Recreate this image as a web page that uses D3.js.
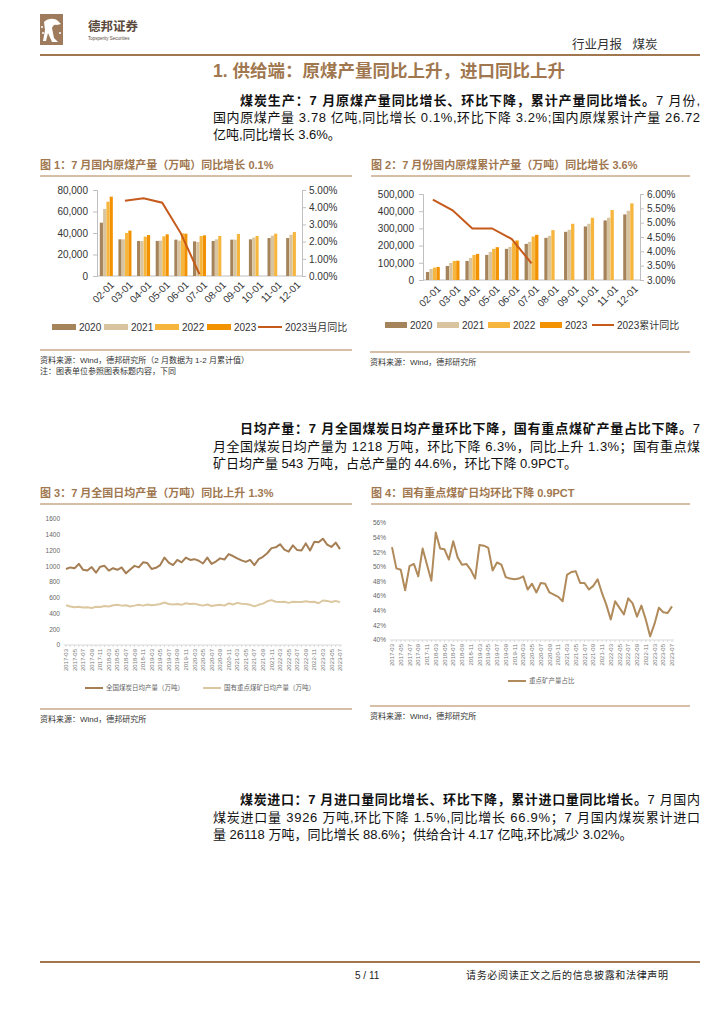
<!DOCTYPE html>
<html>
<head>
<meta charset="utf-8">
<script src="https://cdn.jsdelivr.net/npm/d3@7"></script>
<style>
  body { margin: 0; background: #fff; }
  svg { display: block; font-family: "Liberation Sans", "Noto Sans CJK SC", sans-serif; }
</style>
</head>
<body>
<div id="page"></div>
<script>
// ---------- data ----------
const monthLabels = ["02-01", "03-01", "04-01", "05-01", "06-01", "07-01", "08-01", "09-01", "10-01", "11-01", "12-01"];
const yearNames = ["2020", "2021", "2022", "2023"];

// fig 1: monthly raw coal output (10k t)
const prod2020 = [49600, 34100, 32600, 32600, 33800, 32200, 32600, 33800, 34100, 35300, 35300];
const prod2021 = [62300, 34100, 32600, 32900, 32900, 31600, 34100, 33800, 35700, 37500, 38400];
const prod2022 = [69100, 40000, 36600, 36900, 39700, 37200, 37200, 39100, 37200, 39400, 40900];
const prod2023 = [73800, 42200, 38100, 38800, 39400, 37800];
const prodYoY2023 = [null, 4.38, 4.52, 4.26, 2.48, 0.1];

// fig 2: cumulative output (10k t)
const cum2020 = [46700, 81700, 110900, 145900, 181000, 210100, 245100, 280200, 311300, 346300, 381300];
const cum2021 = [64200, 99200, 128400, 163400, 192600, 221800, 256800, 291800, 326800, 361900, 402700];
const cum2022 = [72000, 110900, 145900, 181000, 217900, 252900, 289900, 326800, 361900, 406600, 445500];
const cum2023 = [75900, 112000, 151800, 190700, 229600, 262600];
const cumYoY2023 = [5.80, 5.43, 4.80, 4.80, 4.43, 3.58];

// fig 3 / fig 4: 2017-03 .. 2023-07, months Mar-Dec
const dailyYears = ["2017", "2018", "2019", "2020", "2021", "2022", "2023"];
const dailyMonths = ["03", "04", "05", "06", "07", "08", "09", "10", "11", "12"];
const dailyTotal = [
  965, 985, 975, 1030, 955, 945, 990, 918, 995, 1005,
  945, 975, 955, 985, 910, 960, 1005, 985, 1050, 1040,
  965, 980, 1015, 1110, 1045, 1015, 1080, 1050, 1110, 1080,
  1090, 1070, 1035, 1110, 1030, 1060, 1100, 1085, 1155, 1130,
  1100, 1075, 1055, 1080, 1015, 1090, 1120, 1165, 1230, 1240,
  1280, 1210, 1185, 1265, 1205, 1200, 1290, 1200, 1310, 1305,
  1350, 1275, 1245, 1300, 1218
];
const dailyStateKey = [
  505, 490, 480, 485, 475, 478, 470, 485, 482, 495,
  490, 505, 510, 500, 505, 490, 500, 510, 500, 515,
  505, 510, 520, 540, 520, 515, 520, 510, 530, 520,
  525, 510, 500, 515, 495, 505, 510, 500, 530, 515,
  535, 525, 520, 510, 490, 510, 525, 555, 570, 550,
  545, 550, 535, 550, 545, 545, 555, 545, 550, 530,
  565, 560, 545, 560, 543
];
const keyShare = [
  52.7, 49.8, 49.6, 46.8, 50.1, 50.4, 48.7, 52.5, 50.3, 48.1,
  54.7, 52.5, 52.4, 51.0, 53.5, 51.3, 50.3, 50.4, 49.6, 48.4,
  53.0, 52.9, 52.6, 49.5, 50.6, 50.3, 48.6, 48.4, 48.3, 48.4,
  48.7, 46.9, 47.7, 46.5, 47.8, 47.7, 46.5, 46.2, 45.9, 45.3,
  48.9, 49.3, 49.4, 47.8, 47.8, 46.9, 47.4, 48.3, 46.4, 44.8,
  42.8, 45.3, 44.4, 43.5, 45.7, 45.0, 43.2, 44.7, 42.8, 40.5,
  42.2, 44.4, 43.8, 43.7, 44.6
];

const barColors = ["#a5835b", "#d8c49e", "#f6b53d", "#f39200"];
const lineColor = "#c55a1b";
const brown = "#a0774f";

// category labels for the daily charts
const dailyCats = [];
dailyYears.forEach(y => dailyMonths.forEach(m => dailyCats.push(y + "-" + m)));
dailyCats.length = dailyTotal.length;

// ---------- page ----------
const W = 724, H = 1024;
const svg = d3.select("#page").append("svg").attr("width", W).attr("height", H);

// header
const logo = svg.append("g");
logo.append("rect").attr("x", 40).attr("y", 14).attr("width", 23).attr("height", 31).attr("fill", "#9d7b5c");
logo.append("path")
  .attr("d", "M44,22 C48,18 55,18 58,21 L61,24 L57,25 C55,24 53,25 52,28 L54,38 L58,42 L52,42 L48,33 L46,41 L43,41 L45,30 Z")
  .attr("fill", "#fff");
[[42, 27], [43, 33], [60, 33]].forEach(p =>
  logo.append("circle").attr("cx", p[0]).attr("cy", p[1]).attr("r", 1).attr("fill", "#fff"));
svg.append("text").attr("x", 88).attr("y", 31).attr("font-size", 12.5).attr("font-weight", "bold")
  .attr("fill", "#5b4a3b").text("德邦证券");
svg.append("text").attr("x", 88).attr("y", 40).attr("font-size", 4.5).attr("fill", "#5b4a3b")
  .text("Topsperity Securities");
svg.append("text").attr("x", 572).attr("y", 49).attr("font-size", 12.5).attr("fill", "#333")
  .attr("xml:space", "preserve").text("行业月报   煤炭");
svg.append("line").attr("x1", 40).attr("x2", 700).attr("y1", 55).attr("y2", 55)
  .attr("stroke", brown).attr("stroke-width", 2);

svg.append("text").attr("x", 213).attr("y", 77).attr("font-size", 17.5).attr("font-weight", "bold")
  .attr("fill", brown).text("1. 供给端：原煤产量同比上升，进口同比上升");

// paragraphs: [x0, baseline, boldPart, normalPart, justify]
function paragraph(lines) {
  lines.forEach(l => {
    const t = svg.append("text").attr("x", l[0]).attr("y", l[1]).attr("font-size", 13).attr("fill", "#111")
      .attr("xml:space", "preserve");
    if (l[2]) t.append("tspan").attr("font-weight", "bold").text(l[2]);
    t.append("tspan").text(l[3]);
    if (l[4]) t.attr("textLength", 700 - l[0]).attr("lengthAdjust", "spacing");
  });
}
paragraph([
  [240, 105, "煤炭生产：7 月原煤产量同比增长、环比下降，累计产量同比增长。", "7 月份,", true],
  [213, 122, "", "国内原煤产量 3.78 亿吨,同比增长 0.1%,环比下降 3.2%;国内原煤累计产量 26.72", true],
  [213, 139, "", "亿吨,同比增长 3.6%。", false]
]);
paragraph([
  [240, 433, "日均产量：7 月全国煤炭日均产量环比下降，国有重点煤矿产量占比下降。", "7", true],
  [213, 451, "", "月全国煤炭日均产量为 1218 万吨，环比下降 6.3%，同比上升 1.3%；国有重点煤", true],
  [213, 468, "", "矿日均产量 543 万吨，占总产量的 44.6%，环比下降 0.9PCT。", false]
]);
paragraph([
  [240, 804, "煤炭进口：7 月进口量同比增长、环比下降，累计进口量同比增长。", "7 月国内", true],
  [213, 822, "", "煤炭进口量 3926 万吨,环比下降 1.5%,同比增长 66.9%；7 月国内煤炭累计进口", true],
  [213, 839, "", "量 26118 万吨，同比增长 88.6%；供给合计 4.17 亿吨,环比减少 3.02%。", false]
]);

// footer
svg.append("line").attr("x1", 40).attr("x2", 700).attr("y1", 962).attr("y2", 962)
  .attr("stroke", brown).attr("stroke-width", 2);
svg.append("text").attr("x", 355).attr("y", 979).attr("font-size", 10).attr("fill", "#222").text("5 / 11");
svg.append("text").attr("x", 466).attr("y", 979).attr("font-size", 10).attr("fill", "#222")
  .attr("textLength", 202).attr("lengthAdjust", "spacing").text("请务必阅读正文之后的信息披露和法律声明");

// caption + rule + sources
function caption(x, y, x2, text) {
  svg.append("text").attr("x", x).attr("y", y).attr("font-size", 11).attr("font-weight", "bold")
    .attr("fill", brown).text(text);
  svg.append("line").attr("x1", x).attr("x2", x2).attr("y1", y + 7).attr("y2", y + 7)
    .attr("stroke", "#c9a98a").attr("stroke-width", 1.5);
}
function source(x, y, x2, lines) {
  svg.append("line").attr("x1", x).attr("x2", x2).attr("y1", y).attr("y2", y)
    .attr("stroke", "#c9a98a").attr("stroke-width", 1.5);
  lines.forEach((s, i) => svg.append("text").attr("x", x).attr("y", y + 13 + i * 11)
    .attr("font-size", 8).attr("fill", "#333").text(s));
}

// ---------- grouped bar + line ----------
function barChart(cfg) {
  const g = svg.append("g");
  const x0 = d3.scaleBand().domain(monthLabels).range([cfg.left, cfg.right]).paddingInner(0.3).paddingOuter(0.15);
  const x1 = d3.scaleBand().domain(yearNames).range([0, x0.bandwidth()]).paddingInner(0.05);
  const y = d3.scaleLinear().domain(cfg.yDomain).range([cfg.bottom, cfg.top]);
  const y2 = d3.scaleLinear().domain(cfg.y2Domain).range([cfg.bottom, cfg.top]);

  const axisStyle = sel => {
    sel.selectAll("path,line").attr("stroke", "#bfbfbf");
    sel.selectAll("text").attr("font-size", 10).attr("fill", "#333")
      .attr("font-family", "Liberation Sans, sans-serif");
  };
  g.append("g").attr("transform", `translate(${cfg.left},0)`)
    .call(d3.axisLeft(y).tickValues(cfg.yTicks).tickFormat(d3.format(",")).tickSizeOuter(0).tickSize(4).tickPadding(5))
    .call(axisStyle);
  g.append("g").attr("transform", `translate(${cfg.right},0)`)
    .call(d3.axisRight(y2).tickValues(cfg.y2Ticks).tickFormat(d => d.toFixed(2) + "%").tickSizeOuter(0).tickSize(4).tickPadding(3))
    .call(axisStyle);
  g.append("line").attr("x1", cfg.left).attr("x2", cfg.right).attr("y1", cfg.bottom).attr("y2", cfg.bottom)
    .attr("stroke", "#bfbfbf");

  cfg.series.forEach((vals, si) => {
    g.append("g").selectAll("rect").data(vals.map((v, i) => ({ v, m: monthLabels[i] })).filter(d => d.v != null))
      .join("rect")
      .attr("x", d => x0(d.m) + x1(yearNames[si]))
      .attr("y", d => y(d.v))
      .attr("width", x1.bandwidth())
      .attr("height", d => cfg.bottom - y(d.v))
      .attr("fill", barColors[si]);
  });

  const pts = cfg.line.map((v, i) => ({ v, m: monthLabels[i] })).filter(d => d.v != null);
  g.append("path").datum(pts)
    .attr("d", d3.line().x(d => x0(d.m) + x0.bandwidth() / 2).y(d => y2(d.v)))
    .attr("fill", "none").attr("stroke", lineColor).attr("stroke-width", 2);

  g.append("g").selectAll("text").data(monthLabels).join("text")
    .attr("transform", d => `translate(${x0(d) + x0.bandwidth() / 2 + 6},${cfg.bottom + 7}) rotate(-45)`)
    .attr("text-anchor", "end").attr("dy", "0.35em")
    .attr("font-size", 10).attr("fill", "#333").text(d => d);

  // legend
  const lg = g.append("g");
  cfg.legendX.forEach((lx, i) => {
    if (i < 4) {
      lg.append("rect").attr("x", lx).attr("y", cfg.legendY - 3).attr("width", cfg.swatch).attr("height", 6)
        .attr("fill", barColors[i]);
    } else {
      lg.append("line").attr("x1", lx).attr("x2", lx + cfg.swatch).attr("y1", cfg.legendY).attr("y2", cfg.legendY)
        .attr("stroke", lineColor).attr("stroke-width", 2);
    }
    lg.append("text").attr("x", lx + cfg.swatch + 3).attr("y", cfg.legendY).attr("dy", "0.35em")
      .attr("font-size", 10).attr("fill", "#333")
      .text(i < 4 ? yearNames[i] : cfg.lineName);
  });
}

// ---------- daily line charts ----------
function lineChart(cfg) {
  const g = svg.append("g");
  const x = d3.scalePoint().domain(dailyCats).range([cfg.left, cfg.right]);
  const y = d3.scaleLinear().domain(cfg.yDomain).range([cfg.bottom, cfg.top]);

  g.append("line").attr("x1", cfg.left - 2).attr("x2", cfg.right + 2).attr("y1", cfg.bottom).attr("y2", cfg.bottom)
    .attr("stroke", "#d9d9d9");
  g.append("g").selectAll("line").data(dailyCats).join("line")
    .attr("x1", d => x(d)).attr("x2", d => x(d)).attr("y1", cfg.bottom).attr("y2", cfg.bottom + 2)
    .attr("stroke", "#d9d9d9");

  g.append("g").selectAll("text").data(cfg.yTicks).join("text")
    .attr("x", cfg.left - 6).attr("y", d => y(d)).attr("dy", "0.35em").attr("text-anchor", "end")
    .attr("font-size", 6.5).attr("fill", "#666").text(cfg.yFormat);

  g.append("g").selectAll("text").data(dailyCats.filter((d, i) => i % 2 === 0)).join("text")
    .attr("transform", d => `translate(${x(d)},${cfg.bottom + 4}) rotate(-90)`)
    .attr("text-anchor", "end").attr("dy", "0.35em")
    .attr("font-size", 6).attr("fill", "#777").text(d => d);

  cfg.series.forEach(s => {
    g.append("path").datum(s.values)
      .attr("d", d3.line().x((d, i) => x(dailyCats[i])).y(d => y(d)))
      .attr("fill", "none").attr("stroke", s.color).attr("stroke-width", 2).attr("stroke-linejoin", "round");
    g.append("line").attr("x1", s.lx).attr("x2", s.lx + 18).attr("y1", cfg.legendY).attr("y2", cfg.legendY)
      .attr("stroke", s.color).attr("stroke-width", 2);
    g.append("text").attr("x", s.lx + 21).attr("y", cfg.legendY).attr("dy", "0.35em")
      .attr("font-size", 6.5).attr("fill", "#666").text(s.name);
  });
}

// fig 1
caption(40, 169, 352, "图 1：7 月国内原煤产量（万吨）同比增长 0.1%");
barChart({
  left: 97, right: 302, top: 190, bottom: 276,
  yDomain: [0, 80000], yTicks: [0, 20000, 40000, 60000, 80000],
  y2Domain: [0, 5], y2Ticks: [0, 1, 2, 3, 4, 5],
  series: [prod2020, prod2021, prod2022, prod2023], line: prodYoY2023,
  lineName: "2023当月同比", legendY: 327, swatch: 24,
  legendX: [52, 104, 155, 207, 258]
});
source(40, 350, 352, ["资料来源：Wind，德邦研究所（2 月数据为 1-2 月累计值）", "注：图表单位参照图表标题内容，下同"]);

// fig 2
caption(371, 169, 690, "图 2：7 月份国内原煤累计产量（万吨）同比增长 3.6%");
barChart({
  left: 423, right: 640, top: 194, bottom: 280,
  yDomain: [0, 500000], yTicks: [0, 100000, 200000, 300000, 400000, 500000],
  y2Domain: [3, 6], y2Ticks: [3, 3.5, 4, 4.5, 5, 5.5, 6],
  series: [cum2020, cum2021, cum2022, cum2023], line: cumYoY2023,
  lineName: "2023累计同比", legendY: 325, swatch: 22,
  legendX: [385, 437, 488, 540, 592]
});
source(370, 352, 690, ["资料来源：Wind，德邦研究所"]);

// fig 3
caption(40, 497, 352, "图 3：7 月全国日均产量（万吨）同比上升 1.3%");
lineChart({
  left: 66, right: 340, top: 519, bottom: 645,
  yDomain: [0, 1600], yTicks: d3.range(0, 1601, 200), yFormat: d => d,
  legendY: 688,
  series: [
    { values: dailyTotal, color: "#a57e54", name: "全国煤炭日均产量（万吨）", lx: 85 },
    { values: dailyStateKey, color: "#dcc8a0", name: "国有重点煤矿日均产量（万吨）", lx: 203 }
  ]
});
source(40, 709, 352, ["资料来源：Wind，德邦研究所"]);

// fig 4
caption(371, 497, 690, "图 4：国有重点煤矿日均环比下降 0.9PCT");
lineChart({
  left: 392, right: 672, top: 523, bottom: 640,
  yDomain: [40, 56], yTicks: d3.range(40, 57, 2), yFormat: d => d + "%",
  legendY: 681,
  series: [
    { values: keyShare, color: "#b08a5a", name: "重点矿产量占比", lx: 508 }
  ]
});
source(370, 706, 690, ["资料来源：Wind，德邦研究所"]);
</script>
</body>
</html>
